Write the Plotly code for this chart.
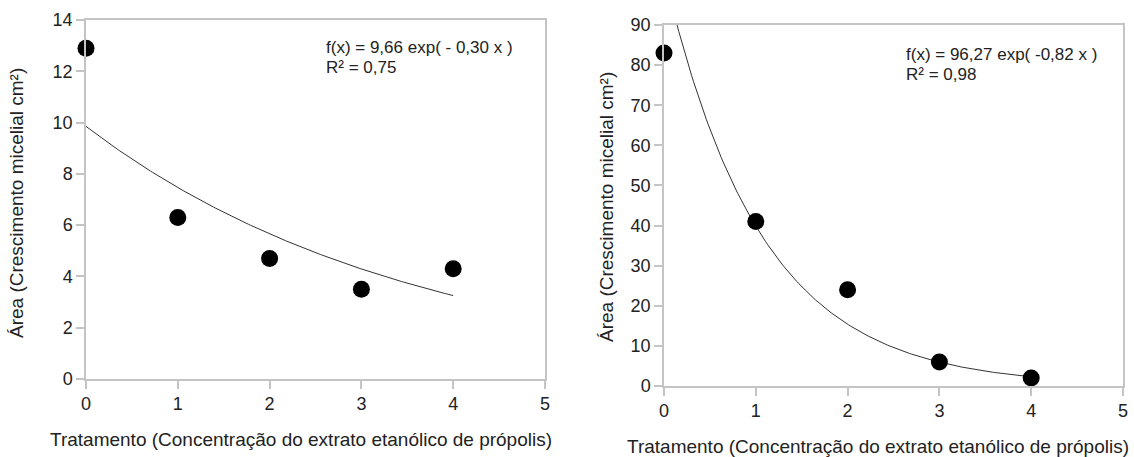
import numpy as np
import plotly.graph_objects as go

# Data
tratamento = [0, 1, 2, 3, 4]
area_left = [12.9, 6.3, 4.7, 3.5, 4.3]
area_right = [83, 41, 24, 6, 2]

# Trend-line parameters (as drawn)
fit_left = [9.85, 0.277]
fit_right = [103.0, 0.95]
eq_left = ["f(x) = 9,66 exp( - 0,30 x )", "R² = 0,75"]
eq_right = ["f(x) = 96,27 exp( -0,82 x )", "R² = 0,98"]
xlabel = "Tratamento (Concentração do extrato etanólico de própolis)"
ylabel = "Área (Crescimento micelial cm²)"

W, H = 1134, 457
FONT = "Liberation Sans, Arial, sans-serif"
TXT = "#222222"

def px(x):
    return x / W

def py(y):
    return 1 - y / H

xs = np.linspace(0, 4, 200)

fig = go.Figure()
fig.add_trace(go.Scatter(x=xs, y=fit_left[0] * np.exp(-fit_left[1] * xs), mode="lines",
                         line=dict(color="#333333", width=1), xaxis="x", yaxis="y", showlegend=False))
fig.add_trace(go.Scatter(x=tratamento, y=area_left, mode="markers",
                         marker=dict(color="black", size=17), xaxis="x", yaxis="y", showlegend=False,
                         cliponaxis=False))
fig.add_trace(go.Scatter(x=xs, y=fit_right[0] * np.exp(-fit_right[1] * xs), mode="lines",
                         line=dict(color="#333333", width=1), xaxis="x2", yaxis="y2", showlegend=False))
fig.add_trace(go.Scatter(x=tratamento, y=area_right, mode="markers",
                         marker=dict(color="black", size=17), xaxis="x2", yaxis="y2", showlegend=False,
                         cliponaxis=False))

axis_common = dict(showgrid=False, zeroline=False, showline=True, linecolor="#c4c4c4", linewidth=1.5,
                   mirror=True, ticks="outside", ticklen=8, tickcolor="#c4c4c4", tickwidth=1.5,
                   automargin=False, tickfont=dict(family=FONT, size=18, color=TXT))

fig.update_layout(
    width=W, height=H, autosize=False,
    margin=dict(l=0, r=0, t=0, b=0, pad=0, autoexpand=False),
    paper_bgcolor="white", plot_bgcolor="white",
    xaxis=dict(domain=[px(86), px(545)], range=[0, 5], dtick=1, anchor="y", **axis_common),
    yaxis=dict(domain=[py(379), py(20)], range=[0, 14], dtick=2, anchor="x", **axis_common),
    xaxis2=dict(domain=[px(664), px(1123)], range=[0, 5], dtick=1, anchor="y2", **axis_common),
    yaxis2=dict(domain=[py(386), py(25)], range=[0, 90], dtick=10, anchor="x2", **axis_common),
)

def txt(x, y, s, size, angle=0, xanchor="center"):
    return dict(x=px(x), y=py(y), xref="paper", yref="paper", text=s, showarrow=False,
                textangle=angle, font=dict(family=FONT, size=size, color=TXT),
                xanchor=xanchor, yanchor="middle")

ann = [
    txt(301, 439, xlabel, 19),
    txt(878, 446, xlabel, 19),
    txt(17, 203, ylabel, 19, angle=-90),
    txt(606, 207, ylabel, 19, angle=-90),
    txt(324, 47, eq_left[0], 17, xanchor="left"),
    txt(324, 67, eq_left[1], 17, xanchor="left"),
    txt(904, 55, eq_right[0], 17, xanchor="left"),
    txt(904, 74, eq_right[1], 17, xanchor="left"),
]
fig.update_layout(annotations=ann)

fig.write_html("out.html", config={"displayModeBar": False, "responsive": False},
               post_script="document.body.style.margin='0px';document.body.style.overflow='hidden';")
